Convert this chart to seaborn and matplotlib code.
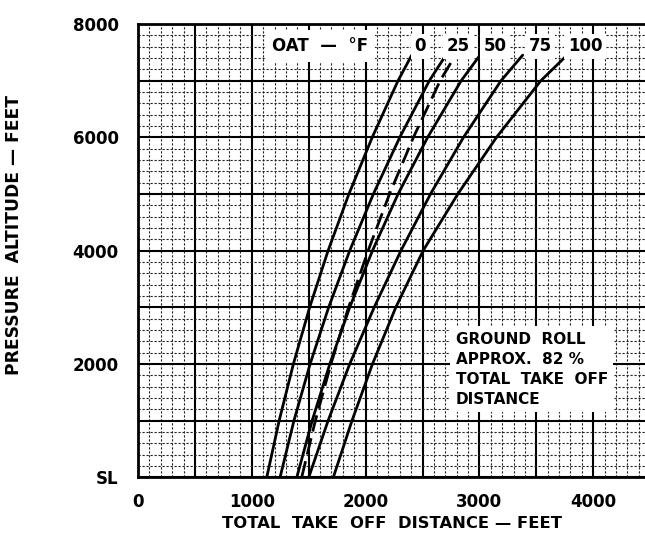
import numpy as np
import pandas as pd
import matplotlib
matplotlib.use("Agg")
import matplotlib.pyplot as plt
import seaborn as sns
from matplotlib.ticker import MultipleLocator, FuncFormatter

sns.set_theme(style="white")
plt.rcParams["font.family"] = ["DejaVu Sans"]
plt.rcParams["font.weight"] = "bold"
plt.rcParams["text.color"] = "black"
plt.rcParams["axes.labelcolor"] = "black"
plt.rcParams["xtick.color"] = "black"
plt.rcParams["ytick.color"] = "black"

alt_ft = [0, 1000, 2000, 3000, 4000, 5000, 6000, 7000, 7450]

# total take off distance (ft) for each outside air temperature
dist_0f = [1131, 1240, 1365, 1508, 1670, 1853, 2058, 2285, 2405]
dist_25f = [1248, 1370, 1512, 1675, 1860, 2068, 2300, 2560, 2705]
dist_50f = [1395, 1530, 1685, 1860, 2060, 2285, 2545, 2840, 3005]
dist_75f = [1500, 1670, 1860, 2075, 2310, 2570, 2860, 3190, 3380]
dist_100f = [1716, 1880, 2060, 2265, 2505, 2810, 3150, 3540, 3770]

# dashed curve (standard atmosphere)
std_alt_ft = [0, 1000, 2000, 3000, 4000, 5000, 6000, 7000, 7420]
dist_std = [1438, 1558, 1695, 1850, 2022, 2210, 2420, 2655, 2780]

oat_labels = ["0", "25", "50", "75", "100"]
oat_label_x = [2478, 2812, 3137, 3532, 3928]

rows = []
for lab, dist in zip(oat_labels, [dist_0f, dist_25f, dist_50f, dist_75f, dist_100f]):
    for a, d in zip(alt_ft, dist):
        rows.append({"oat": lab, "altitude": a, "distance": d})
df = pd.DataFrame(rows)
df_std = pd.DataFrame({"altitude": std_alt_ft, "distance": dist_std})

fig = plt.figure(figsize=(6.45, 5.33), dpi=100)
ax = fig.add_axes([0.214, 0.1043, 0.786, 0.8507])

# graph paper grid
ax.xaxis.set_major_locator(MultipleLocator(500))
ax.xaxis.set_minor_locator(MultipleLocator(100))
ax.yaxis.set_major_locator(MultipleLocator(1000))
ax.yaxis.set_minor_locator(MultipleLocator(200))
ax.grid(which="minor", color="#222222", lw=0.8, ls=(0, (2, 1.6)), zorder=0)
ax.grid(which="major", color="black", lw=1.5, ls="-", zorder=0)
ax.set_axisbelow(True)

ax.xaxis.set_major_formatter(FuncFormatter(lambda v, p: f"{v:.0f}" if v % 1000 == 0 else ""))
ax.yaxis.set_major_formatter(FuncFormatter(
    lambda v, p: "SL" if v == 0 else (f"{v:.0f}" if v % 2000 == 0 else "")))
ax.tick_params(which="both", length=0)
ax.tick_params(axis="x", pad=11, labelsize=12)
ax.tick_params(axis="y", pad=14, labelsize=12)

sns.lineplot(data=df, x="distance", y="altitude", units="oat", estimator=None,
             color="black", lw=2.0, sort=False, ax=ax, zorder=3)
sns.lineplot(data=df_std, x="distance", y="altitude", estimator=None,
             color="black", lw=2.0, ls=(0, (6, 2.5)), sort=False, ax=ax, zorder=3)

ax.set_xlim(0, 4455)
ax.set_ylim(0, 8000)

for s in ["left", "bottom", "top"]:
    ax.spines[s].set_visible(True)
    ax.spines[s].set_color("black")
    ax.spines[s].set_linewidth(2)
    ax.spines[s].set_zorder(6)
ax.spines["right"].set_visible(False)

label_y = 7610
ax.text(1600, label_y, "OAT  —  °F", ha="center", va="center", fontsize=12,
        fontweight="bold", bbox=dict(facecolor="white", edgecolor="none", pad=5), zorder=5)
for lab, lx in zip(oat_labels, oat_label_x):
    ax.text(lx, label_y, lab, ha="center", va="center", fontsize=12,
            fontweight="bold", bbox=dict(facecolor="white", edgecolor="none", pad=2.5),
            zorder=5)

ax.text(2790, 2570, "GROUND  ROLL\nAPPROX.  82 %\nTOTAL  TAKE  OFF\nDISTANCE",
        ha="left", va="top", fontsize=11, fontweight="bold", linespacing=1.42,
        bbox=dict(facecolor="white", edgecolor="none", pad=4), zorder=5)

ax.set_xlabel("TOTAL  TAKE  OFF  DISTANCE — FEET", fontsize=11.8, fontweight="bold", labelpad=4)
ax.set_ylabel("PRESSURE  ALTITUDE — FEET", fontsize=12.3, fontweight="bold")
ax.yaxis.set_label_coords(-0.226, 0.535)

fig.savefig("out.png", dpi=100)
